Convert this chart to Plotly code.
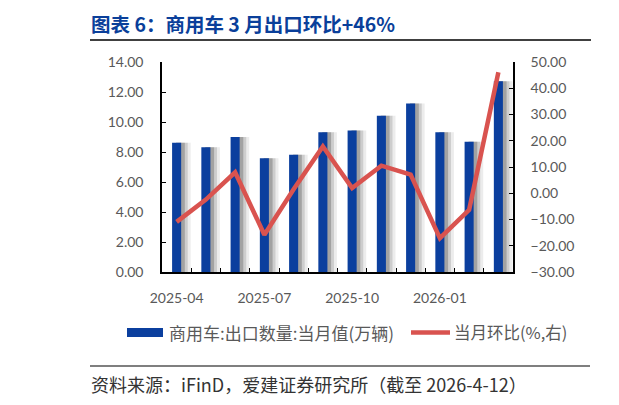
import plotly.graph_objects as go

months = ["2025-04", "2025-05", "2025-06", "2025-07", "2025-08", "2025-09",
          "2025-10", "2025-11", "2025-12", "2026-01", "2026-02", "2026-03"]
export_vol = [8.62, 8.31, 9.00, 7.58, 7.82, 9.31, 9.44, 10.42, 11.24, 9.31, 8.69, 12.71]  # 万辆
mom_pct = [-10.9, -2.4, 8.0, -15.8, 1.5, 17.8, 2.0, 10.5, 7.1, -17.1, -6.3, 46.1]  # %
tick_months = months[::3]

BLUE = "#0B3F9E"
RED = "#D9534F"
CJK = "Noto Sans CJK SC"
NUM = "Lato"

W, H = 619, 405
OFF = 8  # page body margin pushes the figure 8px right/down
# plot area in screenshot pixels
L, R, T, B = 162, 513, 62, 272


def xp(px):
    return (px - L) / (R - L)


def yp(py):
    return (B - py) / (B - T)


x = list(range(len(months)))

fig = go.Figure()
# soft shadow behind the bars (three layers ~ gradient)
fig.add_trace(go.Bar(x=x, y=export_vol, width=0.50, offset=-0.02,
                     marker=dict(color="rgba(180,180,180,0.25)", line_width=0),
                     showlegend=False, hoverinfo="skip"))
fig.add_trace(go.Bar(x=x, y=export_vol, width=0.40, offset=-0.02,
                     marker=dict(color="rgba(150,150,150,0.35)", line_width=0),
                     showlegend=False, hoverinfo="skip"))
fig.add_trace(go.Bar(x=x, y=export_vol, width=0.30, offset=-0.02,
                     marker=dict(color="rgba(110,110,110,0.45)", line_width=0),
                     showlegend=False, hoverinfo="skip"))
fig.add_trace(go.Bar(x=x, y=export_vol, width=0.31, offset=-0.155,
                     marker=dict(color=BLUE, line_width=0),
                     name="商用车:出口数量:当月值(万辆)", showlegend=False))
fig.add_trace(go.Scatter(x=x, y=mom_pct, mode="lines", yaxis="y2",
                         line=dict(color=RED, width=4.5),
                         name="当月环比(%,右)", showlegend=False))

fig.update_layout(
    width=W, height=H,
    margin=dict(l=L - OFF, r=W - (R - OFF), t=T - OFF, b=H - (B - OFF)),
    paper_bgcolor="white", plot_bgcolor="white",
    barmode="overlay",
    font=dict(family=NUM, size=14, color="#595959"),
    xaxis=dict(range=[-0.5, 11.5], tickvals=x[::3], ticktext=tick_months,
               ticks="", showgrid=False, zeroline=False,
               showline=True, linecolor="black", linewidth=1.5,
               ticklabelstandoff=12,
               minor=dict(tickvals=[i + 0.5 for i in x[:-1]], ticks="inside",
                          ticklen=4, tickcolor="black", tickwidth=1)),
    yaxis=dict(range=[0, 14], dtick=2, tickformat=".2f", showgrid=False,
               zeroline=False, showline=True, linecolor="black", linewidth=1.5,
               ticks="inside", ticklen=4, tickcolor="black",
               ticklabelstandoff=14),
    yaxis2=dict(range=[-30, 50], dtick=10, tickformat=".2f", overlaying="y",
                side="right", showgrid=False, zeroline=False, showline=True,
                linecolor="black", linewidth=1.5, ticks="inside", ticklen=4,
                tickcolor="black", ticklabelstandoff=13),
)

shapes = [
    # title rule and footer rule
    dict(type="line", xref="paper", yref="paper", x0=xp(90), x1=xp(591),
         y0=yp(40), y1=yp(40), line=dict(color="black", width=1.5)),
    dict(type="line", xref="paper", yref="paper", x0=xp(615), x1=xp(630),
         y0=yp(40), y1=yp(40), line=dict(color="black", width=1.5)),
    dict(type="line", xref="paper", yref="paper", x0=xp(90), x1=xp(590),
         y0=yp(366), y1=yp(366), line=dict(color="#555555", width=1.5)),
    dict(type="line", xref="paper", yref="paper", x0=xp(615), x1=xp(630),
         y0=yp(366), y1=yp(366), line=dict(color="#555555", width=1.5)),
    # legend keys
    dict(type="rect", xref="paper", yref="paper", x0=xp(127), x1=xp(163),
         y0=yp(337), y1=yp(328), fillcolor=BLUE, line_width=0),
    dict(type="line", xref="paper", yref="paper", x0=xp(411), x1=xp(450),
         y0=yp(332.5), y1=yp(332.5), line=dict(color=RED, width=4.5)),
]
fig.update_layout(shapes=shapes)


def note(text, px, py, size, color, bold=False):
    if bold:
        text = "<b>" + text + "</b>"
    fig.add_annotation(text=text, xref="paper", yref="paper", x=xp(px), y=yp(py),
                       xanchor="left", yanchor="middle", showarrow=False,
                       font=dict(family=CJK, size=size, color=color))


note("图表 6：商用车 3 月出口环比+46%", 89, 23, 19.5, "#0A3F9A", bold=True)
note("图", 613, 23, 19.5, "#0A3F9A", bold=True)
note("商用车:出口数量:当月值(万辆)", 167, 332, 17, "#595959")
note("当月环比(%,右)", 452, 332, 16.5, "#595959")
note("资料来源：iFinD，爱建证券研究所（截至 2026-4-12）", 89, 384, 18, "#333333")
note("资", 615, 384, 18, "#333333")

fig.write_html("out.html")
